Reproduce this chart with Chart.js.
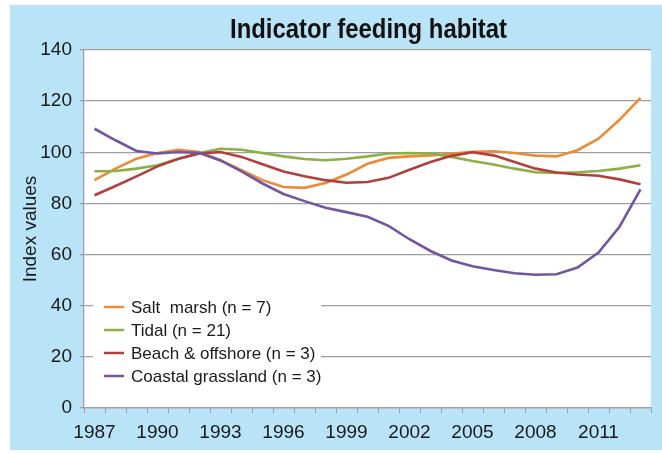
<!DOCTYPE html>
<html>
<head>
<meta charset="utf-8">
<script src="https://cdn.jsdelivr.net/npm/chart.js@4/dist/chart.umd.min.js"></script>
<style>
  html, body { margin: 0; padding: 0; background: #fff; }
  canvas { display: block; }
</style>
</head>
<body>
<canvas id="habitatChart" width="662" height="453"></canvas>
<script>
const years = ["1987","1988","1989","1990","1991","1992","1993","1994","1995","1996","1997","1998","1999",
  "2000","2001","2002","2003","2004","2005","2006","2007","2008","2009","2010","2011","2012","2013"];

const saltMarsh = [89.1, 93.6, 97.5, 99.7, 101.0, 100.1, 96.9, 93.0, 89.1, 86.4, 86.1, 88.0, 91.3,
  95.5, 97.8, 98.4, 98.8, 99.4, 100.2, 100.4, 99.7, 98.7, 98.4, 100.8, 105.3, 112.7, 121.3];
const tidal = [92.6, 92.7, 93.6, 94.9, 97.5, 99.7, 101.4, 101.0, 99.7, 98.4, 97.4, 96.9, 97.5,
  98.4, 99.5, 99.7, 99.5, 98.2, 96.6, 95.2, 93.6, 92.2, 91.9, 92.2, 92.7, 93.6, 94.9];
const beach = [83.2, 86.8, 90.6, 94.5, 97.5, 99.5, 100.1, 98.2, 95.3, 92.5, 90.6, 89.1, 88.1,
  88.4, 90.0, 93.2, 96.2, 98.6, 100.0, 98.8, 96.2, 93.6, 92.1, 91.3, 90.8, 89.4, 87.5];
const grassland = [109.2, 104.7, 100.5, 99.5, 100.1, 99.7, 96.8, 92.5, 87.8, 83.7, 80.9, 78.3, 76.6,
  74.8, 71.2, 66.0, 61.4, 57.7, 55.4, 54.0, 52.7, 52.1, 52.3, 54.9, 60.8, 70.9, 85.5];

const seriesNames = ["Salt  marsh (n = 7)", "Tidal (n = 21)", "Beach \u0026 offshore (n = 3)", "Coastal grassland (n = 3)"];
const seriesColors = ["#eb8a38", "#8bb046", "#b0403e", "#72569f"];

const fontFam = "'Liberation Sans', Arial, sans-serif";

// blue frame, white plot area and the title
const framePlugin = {
  id: "frame",
  beforeDraw(chart) {
    const c = chart.ctx, a = chart.chartArea;
    c.save();
    c.fillStyle = "#ffffff";
    c.fillRect(0, 0, chart.width, chart.height);
    c.fillStyle = "#b9e3f7";
    c.fillRect(10, 5, chart.width - 10, 445);
    c.fillStyle = "#ffffff";
    c.fillRect(a.left, a.top, a.right - a.left, a.bottom - a.top);

    // title is a condensed bold face in the original, squeeze it to the same width
    const title = "Indicator feeding habitat";
    c.fillStyle = "#111111";
    c.font = "bold 27px " + fontFam;
    const w = c.measureText(title).width;
    c.translate(230, 38);
    c.scale(277 / w, 1);
    c.textAlign = "left";
    c.textBaseline = "alphabetic";
    c.fillText(title, 0, 0);
    c.restore();
  }
};

// legend box sitting inside the plot, over the grid lines
const innerLegend = {
  id: "innerLegend",
  beforeDatasetsDraw(chart) {
    const c = chart.ctx;
    c.save();
    c.fillStyle = "#ffffff";
    c.fillRect(93, 292, 228, 100);
    c.font = "17px " + fontFam;
    c.textBaseline = "middle";
    c.textAlign = "left";
    seriesNames.forEach((name, i) => {
      const y = 307 + i * 23;
      c.strokeStyle = seriesColors[i];
      c.lineWidth = 2.5;
      c.beginPath();
      c.moveTo(104, y);
      c.lineTo(124, y);
      c.stroke();
      c.fillStyle = "#1a1a1a";
      c.fillText(name, 131, y + 1);
    });
    c.restore();
  }
};

// grassland drawn first, salt marsh last (on top)
const datasets = [grassland, beach, tidal, saltMarsh].map((vals, k) => {
  const i = 3 - k;
  return {
    label: seriesNames[i],
    data: vals,
    borderColor: seriesColors[i],
    backgroundColor: seriesColors[i],
    borderWidth: 2.6,
    pointRadius: 0,
    tension: 0,
    fill: false
  };
});

new Chart(document.getElementById("habitatChart"), {
  type: "line",
  data: { labels: years, datasets: datasets },
  options: {
    responsive: false,
    animation: false,
    layout: { padding: { left: 10, top: 50, right: 11, bottom: 0 } },
    plugins: {
      legend: { display: false },
      tooltip: { enabled: false }
    },
    scales: {
      x: {
        offset: true,
        grid: { offset: true, drawOnChartArea: false, drawTicks: true, tickLength: 5, color: "#9e9e9e" },
        border: { color: "#9e9e9e", width: 1.3 },
        ticks: {
          autoSkip: false,
          maxRotation: 0,
          padding: 8,
          color: "#1a1a1a",
          font: { family: fontFam, size: 19 },
          callback: function(v, i) { return i % 3 === 0 ? years[i] : ""; }
        },
        afterFit(scale) { scale.height = 45; }
      },
      y: {
        min: 0,
        max: 140,
        ticks: { stepSize: 20, padding: 8, color: "#1a1a1a", font: { family: fontFam, size: 19 } },
        grid: { color: "#9e9e9e", lineWidth: 1.3, tickLength: 4 },
        border: { color: "#9e9e9e", width: 1.3 },
        title: { display: true, text: "Index values", color: "#1a1a1a", font: { family: fontFam, size: 19 }, padding: { top: 9, bottom: 0 } },
        afterFit(scale) { scale.width = 74; }
      }
    }
  },
  plugins: [framePlugin, innerLegend]
});
</script>
</body>
</html>
